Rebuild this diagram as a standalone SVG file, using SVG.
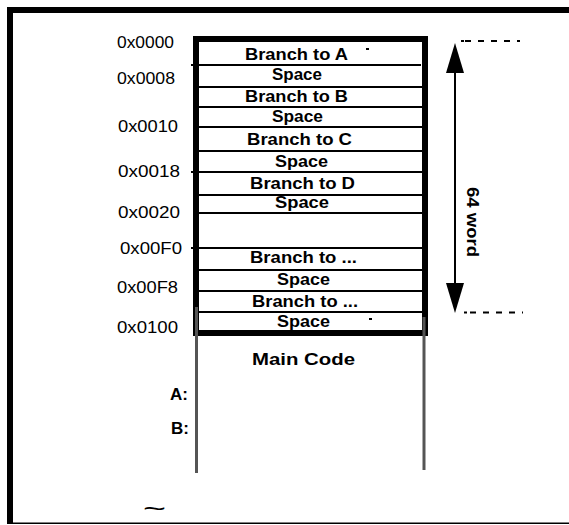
<svg xmlns="http://www.w3.org/2000/svg" width="569" height="525" viewBox="0 0 569 525">
<style>
.row{font-family:"Liberation Sans",Arial,sans-serif;font-weight:bold;font-size:17px;fill:#000}
.addr{font-family:"Liberation Sans",Arial,sans-serif;font-size:16px;fill:#000}
.sep{stroke:#000;stroke-width:2;fill:none}
.gray{stroke:#555;stroke-width:3;fill:none}
.dash{stroke:#000;stroke-width:2;stroke-dasharray:6 7;fill:none}
</style>
<rect width="569" height="525" fill="#fff"/>
<g id="frame">
<path d="M569,10 H10 V523" stroke="#000" stroke-width="6" fill="none"/>
<line x1="7" y1="523.3" x2="569" y2="523.3" stroke="#000" stroke-width="1.5"/>
</g>
<g id="connectors">
<line x1="455" y1="72" x2="455" y2="284" stroke="#000" stroke-width="2"/>
<path d="M446,73 L464,73 L455,43 Z" fill="#000"/>
<path d="M446,283 L464,283 L455,313 Z" fill="#000"/>
<path class="dash" d="M465,41 H520"/>
<rect x="461" y="40" width="3" height="2" fill="#000"/>
<path class="dash" d="M470,312.5 H523"/>
<rect x="464" y="311.5" width="3" height="2" fill="#000"/>
</g>
<g id="label-64word">
<text class="row" font-size="18" transform="translate(467,187) rotate(90)" textLength="70" lengthAdjust="spacingAndGlyphs">64 word</text>
</g>
<g id="memory-table">
<rect x="196" y="39" width="229" height="294" fill="none" stroke="#000" stroke-width="6"/>
<path class="sep" d="M191,65 H421 M199,87 H422 M199,107 H422 M199,127 H422 M199,151 H422 M191,172 H422 M199,195 H422 M199,213 H422 M191,248 H422 M199,270 H422 M199,291 H422 M199,312 H422"/>
<text class="row" x="245" y="60" textLength="103" lengthAdjust="spacingAndGlyphs">Branch to A</text>
<text class="row" x="272" y="80" textLength="50" lengthAdjust="spacingAndGlyphs">Space</text>
<text class="row" x="245" y="101.5" textLength="103" lengthAdjust="spacingAndGlyphs">Branch to B</text>
<text class="row" x="272" y="121.5" textLength="51" lengthAdjust="spacingAndGlyphs">Space</text>
<text class="row" x="247" y="145" textLength="105" lengthAdjust="spacingAndGlyphs">Branch to C</text>
<text class="row" x="275" y="166.5" textLength="53" lengthAdjust="spacingAndGlyphs">Space</text>
<text class="row" x="250" y="189" textLength="105" lengthAdjust="spacingAndGlyphs">Branch to D</text>
<text class="row" x="275" y="208" textLength="54" lengthAdjust="spacingAndGlyphs">Space</text>
<text class="row" x="250" y="263" textLength="107" lengthAdjust="spacingAndGlyphs">Branch to ...</text>
<text class="row" x="277" y="285" textLength="53" lengthAdjust="spacingAndGlyphs">Space</text>
<text class="row" x="252" y="306.5" textLength="106" lengthAdjust="spacingAndGlyphs">Branch to ...</text>
<text class="row" x="277" y="327" textLength="53" lengthAdjust="spacingAndGlyphs">Space</text>
<rect x="366" y="48" width="3" height="2" fill="#000"/>
<rect x="369" y="318" width="3" height="2" fill="#000"/>
</g>
<g id="addresses">
<text class="addr" x="117" y="48" textLength="57" lengthAdjust="spacingAndGlyphs">0x0000</text>
<text class="addr" x="117" y="84" textLength="58" lengthAdjust="spacingAndGlyphs">0x0008</text>
<text class="addr" x="118" y="131.5" textLength="60" lengthAdjust="spacingAndGlyphs">0x0010</text>
<text class="addr" x="118" y="176.5" textLength="62" lengthAdjust="spacingAndGlyphs">0x0018</text>
<text class="addr" x="118" y="218" textLength="62" lengthAdjust="spacingAndGlyphs">0x0020</text>
<text class="addr" x="120" y="254" textLength="62" lengthAdjust="spacingAndGlyphs">0x00F0</text>
<text class="addr" x="117" y="293" textLength="61" lengthAdjust="spacingAndGlyphs">0x00F8</text>
<text class="addr" x="117" y="332.5" textLength="61" lengthAdjust="spacingAndGlyphs">0x0100</text>
</g>
<g id="main-code">
<path class="gray" d="M196.5,307 V473"/>
<path class="gray" d="M424,317 V470"/>
<text class="row" x="252" y="365" textLength="103" lengthAdjust="spacingAndGlyphs">Main Code</text>
<text class="row" x="170" y="400">A:</text>
<text class="row" x="171" y="434">B:</text>
<text x="143" y="517" font-family="Liberation Sans, Arial, sans-serif" font-size="24" textLength="23" lengthAdjust="spacingAndGlyphs" fill="#000">~</text>
</g>
</svg>
